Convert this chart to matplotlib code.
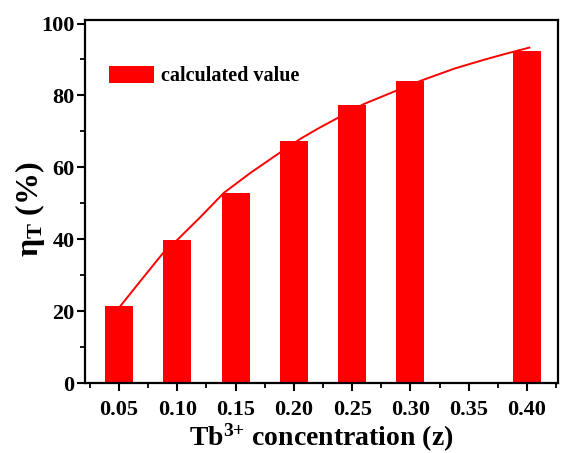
import matplotlib
matplotlib.use("Agg")
import matplotlib.pyplot as plt
from matplotlib.ticker import MultipleLocator

plt.rcParams["font.family"] = ["Liberation Serif", "DejaVu Serif"]
plt.rcParams["font.weight"] = "bold"
plt.rcParams["mathtext.fontset"] = "custom"
plt.rcParams["mathtext.rm"] = "Liberation Serif:bold"
plt.rcParams["mathtext.it"] = "Liberation Serif:bold"
plt.rcParams["mathtext.bf"] = "Liberation Serif:bold"

RED = "#FF0000"

# Tb3+ concentration and calculated transfer efficiency (bars)
conc = [0.05, 0.10, 0.15, 0.20, 0.25, 0.30, 0.40]
eta = [21.4, 39.7, 52.9, 67.4, 77.4, 83.9, 92.4]

# fitted curve
curve_x = [0.051, 0.070, 0.088, 0.100, 0.120, 0.140, 0.163, 0.189, 0.206,
           0.222, 0.238, 0.260, 0.290, 0.309, 0.338, 0.364, 0.383, 0.402]
curve_y = [21.3, 29.0, 36.2, 39.8, 46.2, 52.9, 58.5, 64.3, 68.0,
           71.0, 73.8, 77.6, 81.6, 84.1, 87.5, 90.0, 91.7, 93.3]

tick_pos = [0.05, 0.10, 0.15, 0.20, 0.25, 0.30, 0.35, 0.40]
tick_lbl = ["0.05", "0.10", "0.15", "0.20", "0.25", "0.30", "0.35", "0.40"]

fig = plt.figure(figsize=(5.62, 4.53), dpi=100)
ax = fig.add_axes([0.151, 0.1545, 0.842, 0.8015])

ax.bar(conc, eta, width=0.024, color=RED, edgecolor="none",
       label="calculated value", zorder=2)
ax.plot(curve_x, curve_y, color=RED, linewidth=1.4, zorder=3,
        solid_joinstyle="round")

ax.set_xlim(0.0208, 0.4266)
ax.set_ylim(0, 101)
ax.set_xticks(tick_pos)
ax.set_xticklabels(tick_lbl)
ax.xaxis.set_minor_locator(MultipleLocator(0.025))
ax.yaxis.set_major_locator(MultipleLocator(20))
ax.yaxis.set_minor_locator(MultipleLocator(10))

for s in ax.spines.values():
    s.set_linewidth(1.6)
ax.tick_params(which="major", direction="out", length=6, width=1.5,
               labelsize=16)
ax.tick_params(axis="x", which="major", pad=6)
ax.tick_params(axis="y", which="major", pad=1.5)
ax.tick_params(which="minor", direction="out", length=3.5, width=1.3)
for lab in ax.get_xticklabels() + ax.get_yticklabels():
    lab.set_fontweight("bold")

ax.set_xlabel(r"Tb$^{3{+}}$ concentration (z)", fontsize=20,
              fontweight="bold", labelpad=1.5)
ax.set_ylabel(r"$\eta_\mathrm{T}$ (%)", fontsize=23, fontweight="bold")
ax.yaxis.set_label_coords(-0.08, 0.48)

ax.legend(loc="upper left", bbox_to_anchor=(0.033, 0.895), frameon=False,
          handlelength=2.25, handleheight=0.9, handletextpad=0.35,
          borderaxespad=0, prop={"size": 14.5, "weight": "bold"})

fig.savefig("out.png", dpi=100, facecolor="white")
